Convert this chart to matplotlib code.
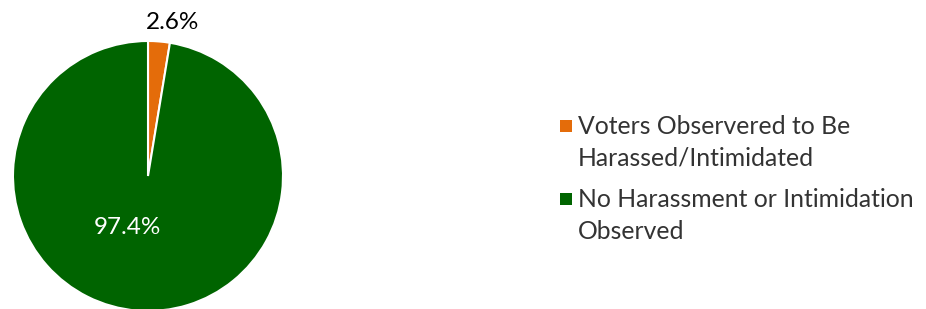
import matplotlib
matplotlib.use('Agg')
import matplotlib.pyplot as plt
from matplotlib.patches import Rectangle

# data
categories = ['Voters Observered to Be\nHarassed/Intimidated',
              'No Harassment or Intimidation\nObserved']
values = [2.6, 97.4]
pct_labels = ['2.6%', '97.4%']
colors = ['#E46C0A', '#006400']

plt.rcParams['font.family'] = ['Lato', 'DejaVu Sans']

W, H = 926, 309
fig = plt.figure(figsize=(W / 100, H / 100), dpi=100)

# pie axes: centre (148, 176) px, radius 135 px
cx, cy, r = 148, 176, 135
ax = fig.add_axes([(cx - r) / W, (H - cy - r) / H, 2 * r / W, 2 * r / H])
wedges, _ = ax.pie(values, colors=colors, startangle=90, counterclock=False,
                   radius=1, wedgeprops=dict(edgecolor='white', linewidth=1.5))
ax.set_xlim(-1, 1)
ax.set_ylim(-1, 1)
ax.set_aspect('equal')
ax.axis('off')

# percent labels
ax.text(0.18, 1.14, pct_labels[0], ha='center', va='center', fontsize=17.5,
        color='black', clip_on=False)
ax.text(-0.156, -0.378, pct_labels[1], ha='center', va='center', fontsize=17.5,
        color='white')

# legend drawn by hand so the marker sits beside the first line
entry_tops = [115, 188]
for lab, col, yt in zip(categories, colors, entry_tops):
    fig.patches.append(Rectangle((560 / W, (H - yt - 17) / H), 12 / W, 12 / H,
                                 transform=fig.transFigure, facecolor=col,
                                 edgecolor='none'))
    fig.text(578 / W, (H - yt) / H, lab, ha='left', va='top', fontsize=17.8,
             color='#333333', linespacing=1.45)

fig.savefig('out.png', dpi=100)
